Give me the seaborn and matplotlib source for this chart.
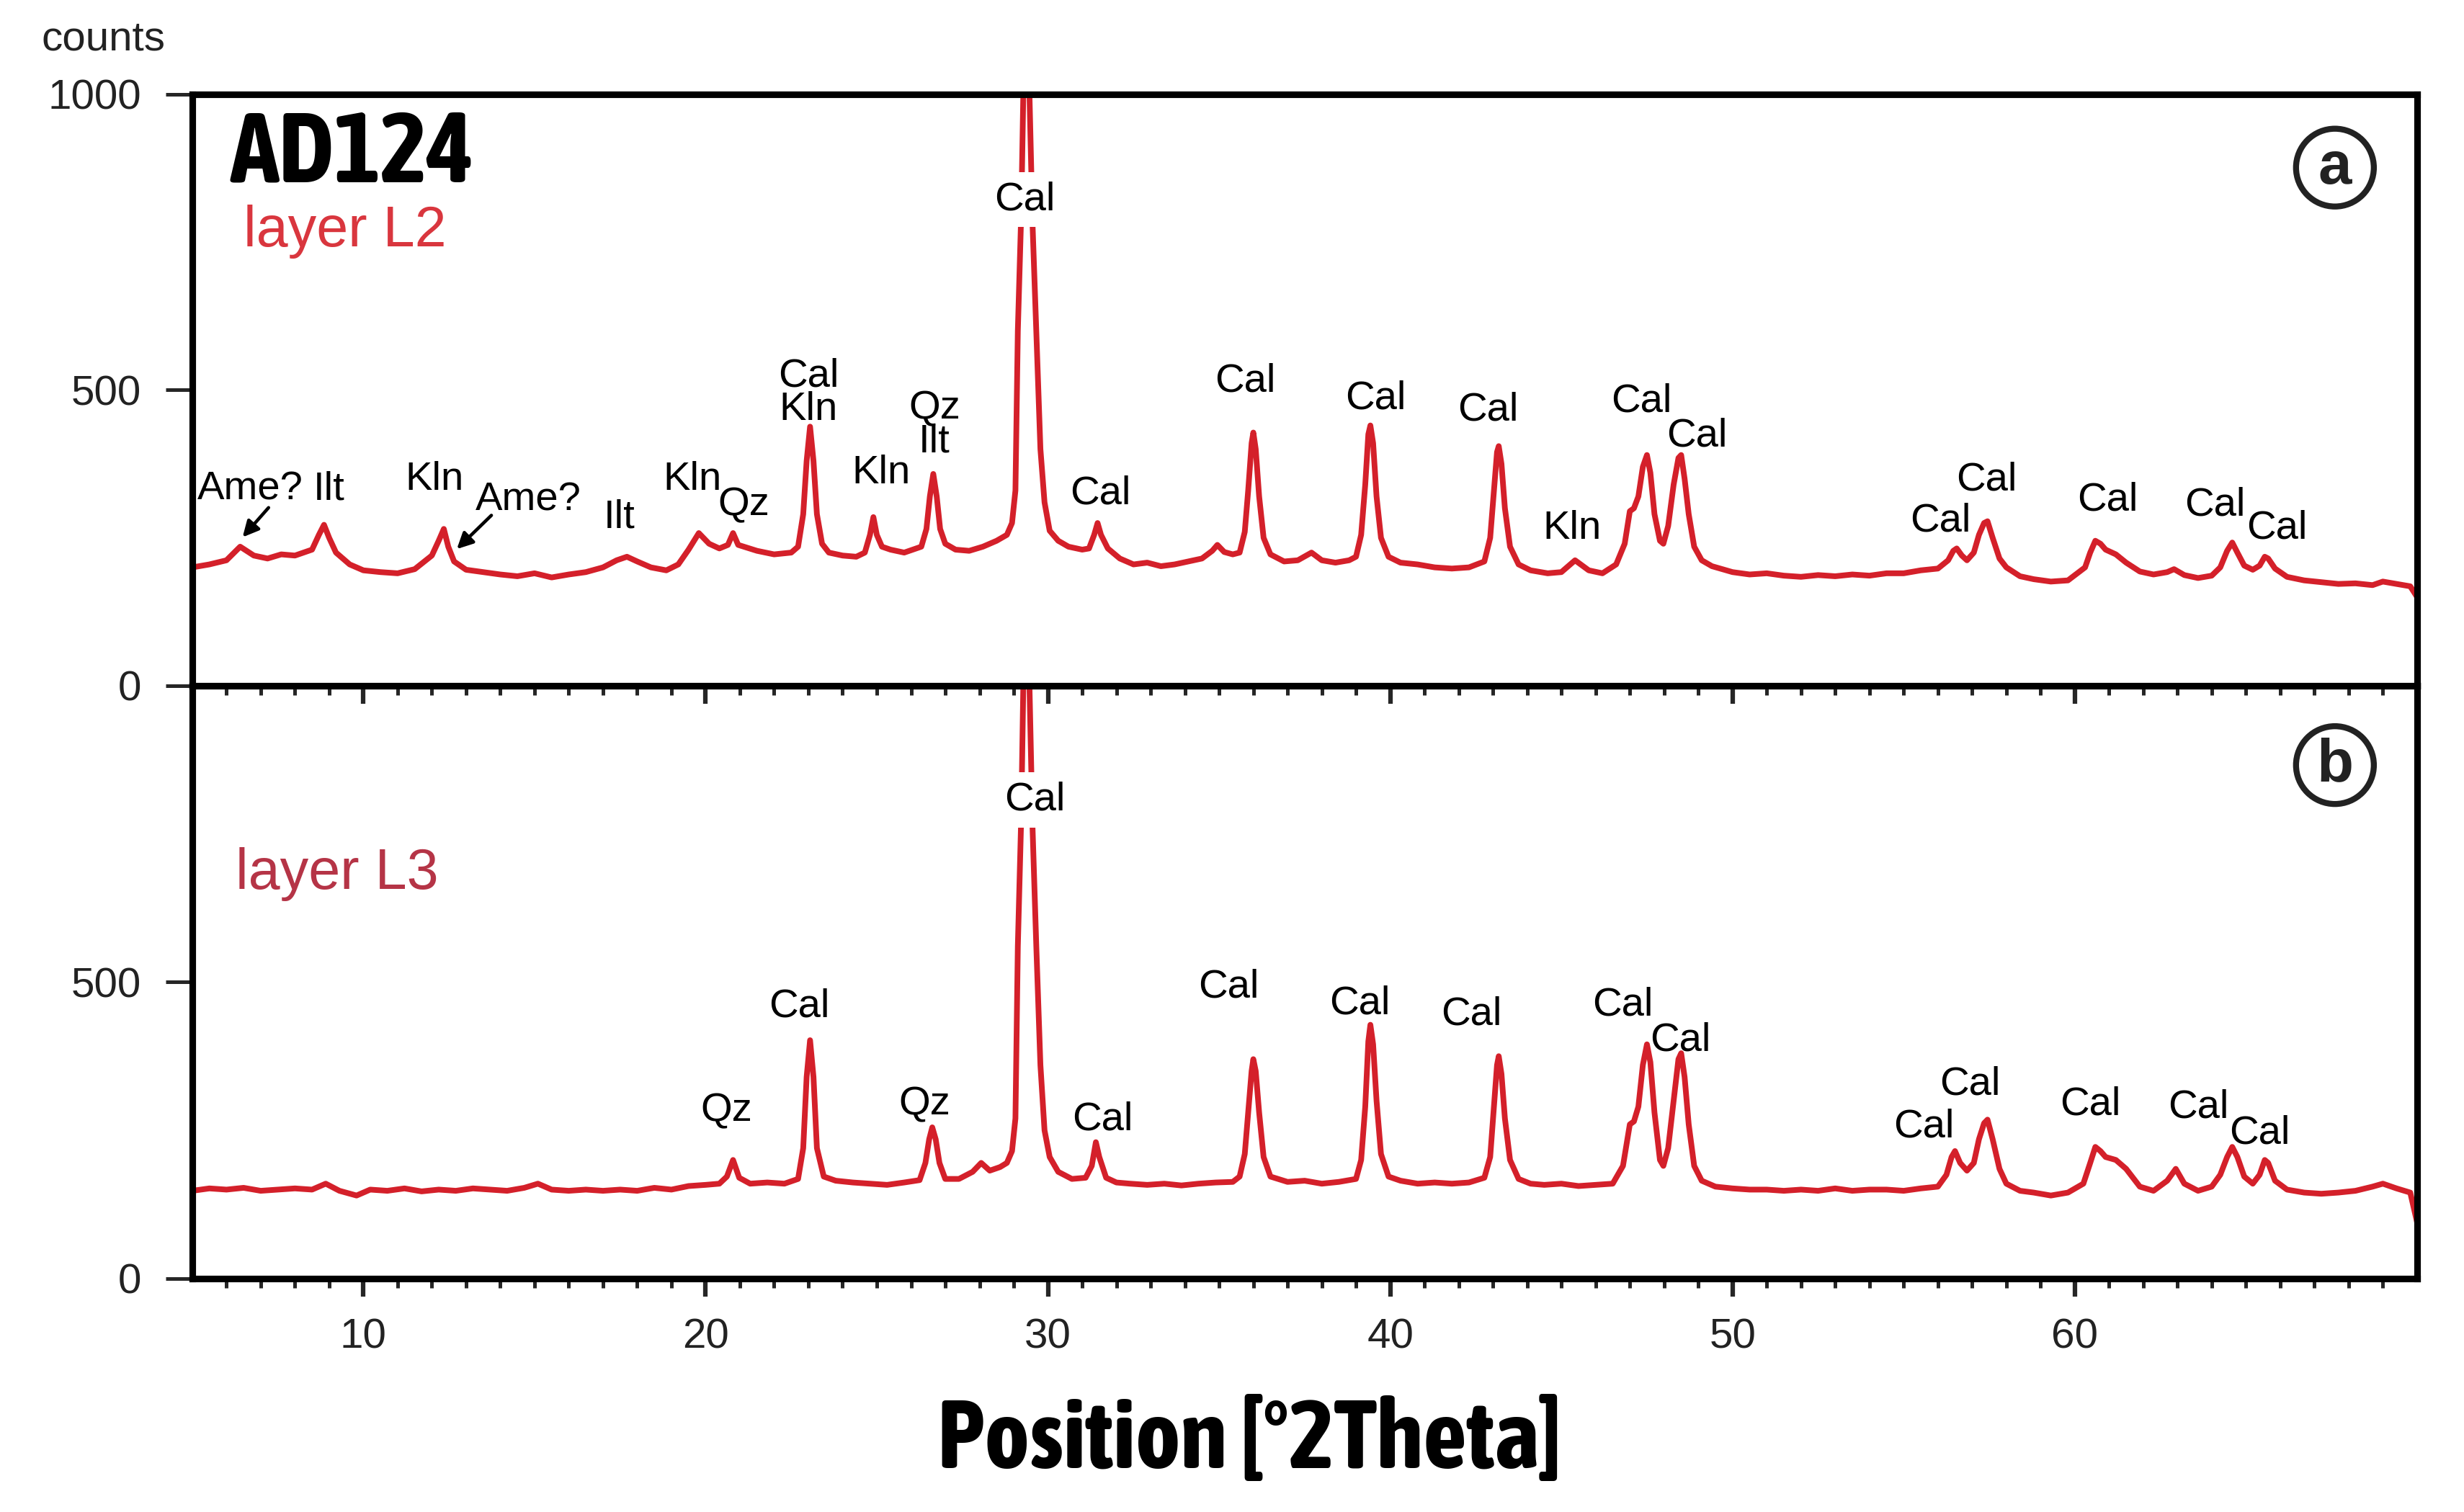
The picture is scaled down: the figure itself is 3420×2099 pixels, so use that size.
#
#   XRD patterns of sample AD124, layers L2 and L3
#

import matplotlib.pyplot as plt
import seaborn as sns

# ---- layer L2 (panel a): position [deg 2theta] and counts
theta_a = [5.0, 5.5, 6.0, 6.4, 6.8, 7.2, 7.6, 8.0, 8.5, 8.7, 8.85, 9.0, 9.2, 9.6,
           10.0, 10.5, 11.0, 11.5, 12.0, 12.2, 12.35, 12.48, 12.65, 13.0, 13.5, 14.0,
           14.5, 15.0, 15.5, 16.0, 16.5, 17.0, 17.4, 17.7, 18.0, 18.4, 18.85, 19.2,
           19.5, 19.8, 20.1, 20.4, 20.65, 20.8, 20.95, 21.5, 22.0, 22.5, 22.7, 22.85,
           22.95, 23.05, 23.15, 23.25, 23.4, 23.6, 24.0, 24.4, 24.65, 24.8, 24.9, 25.0,
           25.15, 25.4, 25.8, 26.3, 26.45, 26.55, 26.65, 26.75, 26.85, 27.0, 27.3, 27.7,
           28.1, 28.5, 28.8, 28.95, 29.05, 29.12, 29.22, 29.28, 29.37, 29.46, 29.55,
           29.66, 29.78, 29.9, 30.05, 30.3, 30.6, 31.0, 31.2, 31.35, 31.45, 31.55, 31.75,
           32.1, 32.5, 32.9, 33.3, 33.7, 34.1, 34.5, 34.8, 34.95, 35.15, 35.4, 35.6,
           35.75, 35.85, 35.95, 36.0, 36.07, 36.17, 36.3, 36.5, 36.9, 37.3, 37.7, 38.0,
           38.4, 38.8, 39.0, 39.15, 39.27, 39.36, 39.42, 39.5, 39.6, 39.73, 39.95, 40.3,
           40.8, 41.3, 41.8, 42.3, 42.75, 42.92, 43.03, 43.12, 43.17, 43.25, 43.35, 43.5,
           43.75, 44.1, 44.6, 45.0, 45.4, 45.8, 46.2, 46.6, 46.85, 47.0, 47.12, 47.25,
           47.38, 47.5, 47.6, 47.72, 47.88, 47.98, 48.12, 48.28, 48.42, 48.5, 48.6, 48.72,
           48.88, 49.1, 49.4, 50.0, 50.5, 51.0, 51.5, 52.0, 52.5, 53.0, 53.5, 54.0,
           54.5, 55.0, 55.5, 56.0, 56.3, 56.45, 56.55, 56.7, 56.85, 57.05, 57.2, 57.35,
           57.45, 57.6, 57.8, 58.0, 58.4, 58.8, 59.3, 59.8, 60.3, 60.45, 60.6, 60.75,
           60.9, 61.2, 61.5, 61.9, 62.3, 62.7, 62.9, 63.2, 63.6, 64.0, 64.25, 64.45,
           64.6, 64.75, 64.95, 65.2, 65.4, 65.55, 65.65, 65.85, 66.2, 66.7, 67.2, 67.7,
           68.2, 68.7, 69.0, 69.4, 69.8, 70.0]
counts_a = [200, 205, 212, 235, 220, 215, 222, 220, 230, 255, 272, 250, 225, 205,
            195, 192, 190, 197, 220, 245, 265, 235, 210, 196, 192, 188,
            185, 190, 183, 188, 192, 200, 212, 218, 210, 200, 195, 205,
            230, 258, 240, 232, 238, 258, 238, 228, 222, 225, 235, 290,
            380, 438, 380, 290, 240, 225, 220, 218, 225, 255, 285, 255,
            235, 230, 225, 235, 265, 320, 358, 320, 265, 240, 230, 228,
            235, 245, 255, 275, 330, 600, 800, 1000, 1300, 1000, 780,
            600, 400, 310, 262, 245, 235, 230, 232, 255, 275, 255, 232,
            215, 205, 208, 202, 205, 210, 215, 228, 238, 226, 222, 225,
            260, 330, 410, 428, 400, 320, 250, 222, 210, 212, 225, 212,
            208, 212, 218, 255, 340, 425, 440, 410, 320, 250, 218, 208,
            205, 200, 198, 200, 210, 250, 330, 395, 405, 375, 300, 235,
            205, 195, 190, 192, 212, 195, 190, 205, 240, 295, 300, 320,
            370, 390, 360, 290, 245, 240, 270, 340, 385, 390, 350, 290,
            235, 212, 202, 192, 188, 190, 186, 184, 187, 185, 188, 186,
            190, 190, 195, 198, 212, 228, 232, 220, 212, 225, 255, 275,
            278, 250, 215, 200, 185, 180, 176, 178, 200, 225, 245, 240,
            230, 222, 208, 193, 188, 192, 197, 187, 182, 186, 200, 228,
            242, 225, 203, 196, 203, 218, 215, 198, 184, 178, 175, 172,
            173, 170, 176, 172, 168, 150]

# ---- layer L3 (panel b)
theta_b = [5.0, 5.5, 6.0, 6.5, 7.0, 7.5, 8.0, 8.5, 8.9, 9.3, 9.8, 10.2, 10.7, 11.2,
           11.7, 12.2, 12.7, 13.2, 13.7, 14.2, 14.7, 15.1, 15.5, 16.0, 16.5, 17.0,
           17.5, 18.0, 18.5, 19.0, 19.5, 20.0, 20.4, 20.62, 20.8, 20.98, 21.3, 21.8,
           22.3, 22.7, 22.85, 22.95, 23.05, 23.15, 23.25, 23.45, 23.8, 24.3, 24.8, 25.3,
           25.8, 26.25, 26.42, 26.53, 26.62, 26.72, 26.83, 27.0, 27.4, 27.8, 28.05, 28.3,
           28.6, 28.8, 28.95, 29.05, 29.12, 29.22, 29.28, 29.37, 29.46, 29.55, 29.66,
           29.78, 29.9, 30.05, 30.3, 30.7, 31.1, 31.28, 31.4, 31.5, 31.7, 32.0, 32.4,
           32.9, 33.4, 33.9, 34.4, 34.9, 35.4, 35.6, 35.75, 35.85, 35.95, 36.0, 36.07,
           36.17, 36.3, 36.5, 37.0, 37.5, 38.0, 38.5, 39.0, 39.15, 39.27, 39.36, 39.42,
           39.5, 39.6, 39.73, 39.95, 40.3, 40.8, 41.3, 41.8, 42.3, 42.75, 42.92, 43.03,
           43.12, 43.17, 43.25, 43.35, 43.5, 43.75, 44.1, 44.5, 45.0, 45.5, 46.0, 46.5,
           46.8, 47.0, 47.12, 47.25, 47.38, 47.5, 47.6, 47.72, 47.88, 47.98, 48.12, 48.28,
           48.42, 48.5, 48.6, 48.72, 48.88, 49.1, 49.5, 50.0, 50.5, 51.0, 51.5, 52.0,
           52.5, 53.0, 53.5, 54.0, 54.5, 55.0, 55.5, 56.0, 56.25, 56.4, 56.5, 56.65,
           56.85, 57.05, 57.2, 57.35, 57.45, 57.6, 57.8, 58.0, 58.4, 58.8, 59.3, 59.8,
           60.25, 60.45, 60.6, 60.75, 60.9, 61.2, 61.5, 61.9, 62.3, 62.7, 62.95, 63.2,
           63.6, 64.0, 64.25, 64.45, 64.6, 64.75, 64.95, 65.2, 65.4, 65.55, 65.65, 65.85,
           66.2, 66.7, 67.2, 67.7, 68.2, 68.7, 69.0, 69.4, 69.8, 70.0]
counts_b = [148, 152, 150, 153, 148, 150, 152, 150, 160, 148, 140, 150, 148, 152,
            147, 150, 148, 152, 150, 148, 153, 160, 150, 148, 150, 148,
            150, 148, 153, 150, 156, 158, 160, 172, 200, 170, 160, 162,
            160, 168, 220, 340, 402, 340, 220, 172, 165, 162, 160, 158,
            162, 166, 195, 235, 255, 235, 195, 168, 168, 180, 195, 182,
            188, 195, 215, 270, 560, 780, 1000, 1300, 1000, 760,
            560, 360, 250, 205, 180, 168, 170, 190, 230, 205, 170, 162, 160,
            158, 160, 157, 160, 162, 163, 172, 210, 280, 350, 370, 350,
            280, 205, 172, 163, 165, 160, 163, 168, 200, 290, 400, 428,
            395, 300, 210, 172, 165, 160, 162, 160, 162, 170, 205, 290,
            360, 375, 345, 270, 200, 168, 160, 158, 160, 156, 158, 160,
            190, 260, 265, 290, 360, 395, 365, 280, 200, 190, 220, 300,
            370, 380, 340, 260, 190, 165, 155, 152, 150, 150, 148, 150,
            148, 152, 148, 150, 150, 148, 152, 155, 175, 205, 215, 195,
            182, 195, 235, 262, 268, 235, 185, 160, 148, 145, 140, 145,
            160, 195, 222, 215, 205, 200, 185, 155, 148, 165, 185, 160,
            148, 155, 175, 205, 222, 205, 172, 160, 175, 200, 195, 165,
            150, 145, 143, 145, 148, 155, 160, 152, 145, 95]

# ---- phase labels: (text, position, counts)
labels_a = [("Ilt", 8.99, 332), ("Kln", 12.08, 348), ("Ilt", 17.48, 284),
            ("Kln", 19.62, 348), ("Qz", 21.11, 305), ("Cal\nKln", 23.0, 495),
            ("Kln", 25.13, 359), ("Qz\nIlt", 26.68, 440), ("Cal", 31.53, 324),
            ("Cal", 35.76, 515), ("Cal", 39.58, 485), ("Cal", 42.86, 466),
            ("Kln", 45.32, 266), ("Cal", 47.33, 480), ("Cal", 48.97, 422),
            ("Cal", 56.07, 278), ("Cal", 57.42, 348), ("Cal", 60.95, 313),
            ("Cal", 64.1, 305), ("Cal", 65.9, 266)]
main_a = ("Cal", 29.33, 822)
# "Ame?" labels with arrows: text pos, arrow tail, arrow head
ame_a = [((6.7, 332), (7.23, 301), (6.47, 251)),
         ((14.82, 313), (13.74, 288), (12.73, 231))]

labels_b = [("Qz", 20.61, 283), ("Cal", 22.73, 459), ("Qz", 26.4, 294),
            ("Cal", 31.6, 268), ("Cal", 35.27, 491), ("Cal", 39.1, 463),
            ("Cal", 42.38, 445), ("Cal", 46.8, 461), ("Cal", 48.47, 402),
            ("Cal", 55.59, 256), ("Cal", 56.93, 327), ("Cal", 60.46, 294),
            ("Cal", 63.61, 288), ("Cal", 65.4, 245)]
main_b = ("Cal", 29.62, 807)

line_color = "#d4202a"

sns.set_theme(style="ticks")
plt.rcParams['font.family'] = ['Liberation Sans', 'DejaVu Sans']
condensed = ['Asap Condensed', 'Liberation Sans']

fig = plt.figure(figsize=(11.403, 6.997), dpi=300)
ax_a = fig.add_axes([0.078, 0.5465, 0.9027, 0.3911])
ax_b = fig.add_axes([0.078, 0.1544, 0.9027, 0.3921])
ax_a.set_zorder(3)

sns.lineplot(x=theta_a, y=counts_a, ax=ax_a, color=line_color, linewidth=1.9,
             estimator=None, sort=False)
sns.lineplot(x=theta_b, y=counts_b, ax=ax_b, color=line_color, linewidth=1.9,
             estimator=None, sort=False)

for ax in (ax_a, ax_b):
    ax.set_xlim(5, 70)
    ax.set_ylim(0, 1000)
    ax.set_xticks([10, 20, 30, 40, 50, 60])
    ax.set_xticks(range(6, 70), minor=True)
    ax.tick_params(axis='y', which='major', direction='out', length=9, width=1.2,
                   pad=8, labelsize=14, labelcolor='#222222')
    ax.tick_params(axis='x', which='major', direction='out', length=6, width=1.5,
                   pad=7, labelsize=14, labelcolor='#222222')
    ax.tick_params(axis='x', which='minor', direction='out', length=3, width=1.2)
    for side in ['left', 'right', 'top', 'bottom']:
        ax.spines[side].set_visible(True)
        ax.spines[side].set_linewidth(2.2)
        ax.spines[side].set_color('black')
    ax.set(xlabel="", ylabel="")

ax_a.set_yticks([0, 500, 1000])
ax_a.tick_params(axis='x', labelbottom=False)
ax_b.set_yticks([0, 500])
ax_b.patch.set_visible(False)

lab_kw = dict(ha='center', va='center', fontsize=13.5, color='black',
              linespacing=0.85, zorder=5)

for txt, x, y in labels_a:
    ax_a.text(x, y, txt, **lab_kw)
for txt, x, y in labels_b:
    ax_b.text(x, y, txt, **lab_kw)

for ax, (txt, x, y) in ((ax_a, main_a), (ax_b, main_b)):
    ax.text(x, y, txt, bbox=dict(facecolor='white', edgecolor='none', pad=3), **lab_kw)

for (tx, ty), tail, head in ame_a:
    ax_a.text(tx, ty, "Ame?", **lab_kw)
    ax_a.annotate("", xy=head, xytext=tail,
                  arrowprops=dict(arrowstyle='-|>', color='black', lw=1.1,
                                  mutation_scale=11, shrinkA=0, shrinkB=0))

ax_a.text(6.1, 898, "AD124", ha='left', va='center', fontsize=33, fontweight='bold',
          family=condensed, color='black')
ax_a.text(6.49, 768, "layer L2", ha='left', va='center', fontsize=19, color='#d9363e')
ax_b.text(6.27, 682, "layer L3", ha='left', va='center', fontsize=19, color='#b53446')

circ = dict(boxstyle='circle,pad=0.18', facecolor='white', edgecolor='#222222', lw=2)
ax_a.text(67.6, 876, "a", ha='center', va='center', fontsize=20, fontweight='bold',
          bbox=circ, color='#222222')
ax_b.text(67.6, 866, "b", ha='center', va='center', fontsize=20, fontweight='bold',
          bbox=circ, color='#222222')

fig.text(0.042, 0.974, "counts", ha='center', va='center', fontsize=14, color='#222222')
fig.text(0.507, 0.0467, "Position [°2Theta]", ha='center', va='center',
         fontsize=32, fontweight='bold', family=condensed, color='black')

fig.savefig("out.png", dpi=300)
